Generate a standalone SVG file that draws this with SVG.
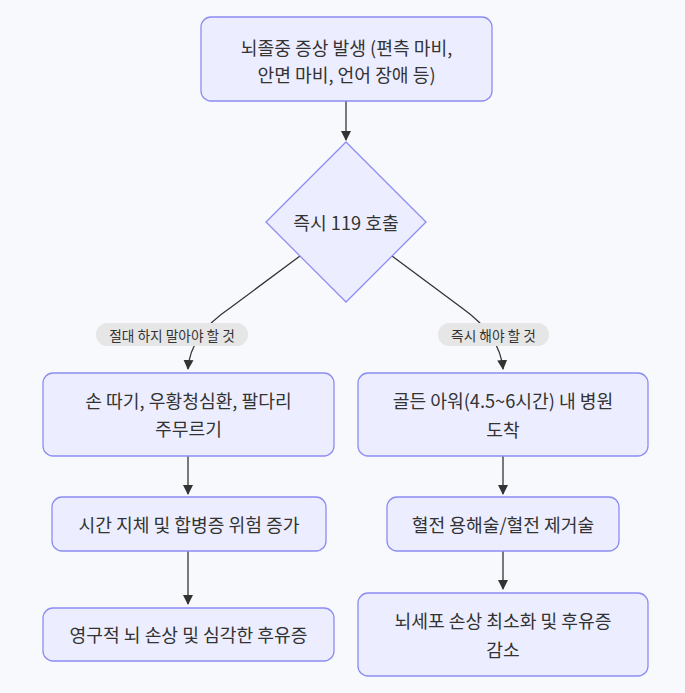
<svg xmlns="http://www.w3.org/2000/svg" width="685" height="693" viewBox="0 0 685 693">
<defs>
<marker id="arr" viewBox="0 0 10 10" refX="9" refY="5" markerWidth="10" markerHeight="10" markerUnits="userSpaceOnUse" orient="auto">
<path d="M0,0 L10,5 L0,10 z" fill="#333333"/>
</marker>
<style>
.node{fill:#ECEEFF;stroke:#8C8CF2;stroke-width:1.3}
.t{font-family:"Noto Sans CJK KR","Noto Sans",sans-serif;font-size:18.2px;fill:#333333;text-anchor:middle;dominant-baseline:central}
.lt{font-family:"Noto Sans CJK KR","Noto Sans",sans-serif;font-size:13.7px;fill:#333333;text-anchor:middle;dominant-baseline:central}
.pill{fill:#E6E6E6}
.e{fill:none;stroke:#333333;stroke-width:1.3;marker-end:url(#arr)}
</style>
</defs>
<rect width="685" height="693" fill="#F8F9FC"/>
<g id="connectors">
<path class="e" d="M346,101 L346,140"/>
<path class="e" d="M300,256 L230,308 Q190,335 188,369"/>
<path class="e" d="M392,256 L462,308 Q500,335 503,369"/>
<path class="e" d="M188,456 L188,494"/>
<path class="e" d="M188,551 L188,604"/>
<path class="e" d="M503,456 L503,494"/>
<path class="e" d="M503,551 L503,589"/>
</g>
<g id="label-no">
<rect class="pill" x="96" y="323" width="152" height="23" rx="11.5"/>
<text class="lt" x="172" y="334.5">절대 하지 말아야 할 것</text>
</g>
<g id="label-yes">
<rect class="pill" x="438" y="323" width="111" height="23" rx="11.5"/>
<text class="lt" x="493.5" y="334.5">즉시 해야 할 것</text>
</g>
<g id="n-start">
<rect class="node" x="201" y="17" width="291" height="84" rx="10"/>
<text class="t" x="346.5" y="47">뇌졸중 증상 발생 (편측 마비,</text>
<text class="t" x="346.5" y="74">안면 마비, 언어 장애 등)</text>
</g>
<g id="n-call">
<path class="node" d="M346,142 L426,222 L346,302 L266,222 Z"/>
<text class="t" x="346" y="222">즉시 119 호출</text>
</g>
<g id="n-bad1">
<rect class="node" x="43" y="373" width="291" height="83" rx="10"/>
<text class="t" x="188.5" y="400">손 따기, 우황청심환, 팔다리</text>
<text class="t" x="188.5" y="428">주무르기</text>
</g>
<g id="n-bad2">
<rect class="node" x="52" y="497" width="274" height="54" rx="10"/>
<text class="t" x="189" y="524">시간 지체 및 합병증 위험 증가</text>
</g>
<g id="n-bad3">
<rect class="node" x="43" y="608" width="291" height="53" rx="10"/>
<text class="t" x="188.5" y="634">영구적 뇌 손상 및 심각한 후유증</text>
</g>
<g id="n-good1">
<rect class="node" x="358" y="373" width="290" height="83" rx="10"/>
<text class="t" x="503" y="400">골든 아워(4.5~6시간) 내 병원</text>
<text class="t" x="503" y="429">도착</text>
</g>
<g id="n-good2">
<rect class="node" x="387" y="497" width="232" height="54" rx="10"/>
<text class="t" x="503" y="524">혈전 용해술/혈전 제거술</text>
</g>
<g id="n-good3">
<rect class="node" x="358" y="593" width="290" height="83" rx="10"/>
<text class="t" x="503" y="620">뇌세포 손상 최소화 및 후유증</text>
<text class="t" x="503" y="649">감소</text>
</g>
</svg>
